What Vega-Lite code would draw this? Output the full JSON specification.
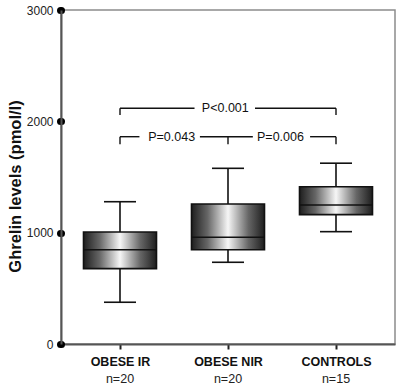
{
  "$schema": "https://vega.github.io/schema/vega-lite/v6.json",
  "width": 334,
  "height": 334,
  "autosize": {"type": "none"},
  "padding": {"left": 61, "top": 10, "right": 5, "bottom": 44},
  "background": "white",
  "config": {
    "font": "Liberation Sans",
    "view": {"stroke": "#8c8c8c", "strokeWidth": 1.5}
  },
  "datasets": {
    "boxes": [
      {"pos": 0, "group": "OBESE IR", "n": "n=20", "min": 375, "q1": 677, "median": 847, "q3": 1006, "max": 1278},
      {"pos": 1, "group": "OBESE NIR", "n": "n=20", "min": 734, "q1": 847, "median": 959, "q3": 1258, "max": 1578},
      {"pos": 2, "group": "CONTROLS", "n": "n=15", "min": 1009, "q1": 1162, "median": 1249, "q3": 1413, "max": 1624}
    ],
    "segments": [
      {"x": 0, "x2": 0, "y": 2057, "y2": 2118},
      {"x": 0, "x2": 0.69, "y": 2118, "y2": 2118},
      {"x": 1.25, "x2": 2, "y": 2118, "y2": 2118},
      {"x": 2, "x2": 2, "y": 2057, "y2": 2118},
      {"x": 0, "x2": 0, "y": 1794, "y2": 1862},
      {"x": 0, "x2": 0.18, "y": 1862, "y2": 1862},
      {"x": 0.74, "x2": 1.23, "y": 1862, "y2": 1862},
      {"x": 1, "x2": 1, "y": 1794, "y2": 1862},
      {"x": 1.76, "x2": 2, "y": 1862, "y2": 1862},
      {"x": 2, "x2": 2, "y": 1794, "y2": 1862}
    ],
    "plabels": [
      {"x": 0.975, "y": 2118, "text": "P<0.001"},
      {"x": 0.478, "y": 1862, "text": "P=0.043"},
      {"x": 1.486, "y": 1862, "text": "P=0.006"}
    ]
  },
  "layer": [
    {
      "data": {"name": "boxes"},
      "mark": {"type": "rule", "color": "#111", "strokeWidth": 1.6},
      "encoding": {
        "x": {
          "field": "pos", "type": "quantitative",
          "scale": {"domain": [-0.5, 2.5], "nice": false, "zero": false},
          "axis": {
            "title": null,
            "values": [0, 1, 2],
            "labelExpr": "['OBESE IR','OBESE NIR','CONTROLS'][datum.value]",
            "grid": false,
            "domainColor": "#555", "domainWidth": 2,
            "tickColor": "#222", "tickWidth": 2, "tickSize": 5,
            "labelFont": "Liberation Sans", "labelFontSize": 12.5, "labelFontWeight": "bold",
            "labelColor": "#111", "labelPadding": 6, "labelFlush": false, "labelOverlap": false
          }
        },
        "y": {
          "field": "min", "type": "quantitative",
          "scale": {"domain": [0, 3000], "nice": false},
          "axis": {
            "title": "Ghrelin levels (pmol/l)",
            "values": [0, 1000, 2000, 3000],
            "format": "d",
            "grid": false,
            "domainColor": "#555", "domainWidth": 2,
            "tickColor": "#000", "tickWidth": 7, "tickSize": 1, "tickCap": "round",
            "labelFont": "Liberation Sans", "labelFontSize": 12, "labelColor": "#222",
            "labelPadding": 7, "labelFlush": false, "labelOverlap": false,
            "titleFont": "Liberation Sans", "titleFontSize": 16.5, "titleFontWeight": "bold",
            "titleColor": "#111", "titlePadding": 3, "titleY": 176
          }
        },
        "y2": {"field": "max"}
      }
    },
    {
      "data": {"name": "boxes"},
      "mark": {
        "type": "bar", "size": 73, "opacity": 1, "stroke": "#111", "strokeWidth": 1.6,
        "fill": {
          "gradient": "linear", "x1": 0, "x2": 1, "y1": 0, "y2": 0,
          "stops": [
            {"offset": 0, "color": "#1e1e1e"},
            {"offset": 0.22, "color": "#666666"},
            {"offset": 0.5, "color": "#f6f6f6"},
            {"offset": 0.78, "color": "#666666"},
            {"offset": 1, "color": "#1e1e1e"}
          ]
        }
      },
      "encoding": {
        "x": {"field": "pos", "type": "quantitative"},
        "y": {"field": "q1", "type": "quantitative"},
        "y2": {"field": "q3"}
      }
    },
    {
      "data": {"name": "boxes"},
      "mark": {"type": "tick", "orient": "horizontal", "size": 73, "thickness": 1.6, "color": "#111", "opacity": 1},
      "encoding": {
        "x": {"field": "pos", "type": "quantitative"},
        "y": {"field": "median", "type": "quantitative"}
      }
    },
    {
      "data": {"name": "boxes"},
      "mark": {"type": "tick", "orient": "horizontal", "size": 32, "thickness": 1.6, "color": "#111", "opacity": 1},
      "encoding": {
        "x": {"field": "pos", "type": "quantitative"},
        "y": {"field": "max", "type": "quantitative"}
      }
    },
    {
      "data": {"name": "boxes"},
      "mark": {"type": "tick", "orient": "horizontal", "size": 32, "thickness": 1.6, "color": "#111", "opacity": 1},
      "encoding": {
        "x": {"field": "pos", "type": "quantitative"},
        "y": {"field": "min", "type": "quantitative"}
      }
    },
    {
      "data": {"name": "boxes"},
      "mark": {"type": "text", "font": "Liberation Sans", "fontSize": 12.5, "color": "#222", "baseline": "middle", "align": "center"},
      "encoding": {
        "x": {"field": "pos", "type": "quantitative"},
        "y": {"datum": -310, "type": "quantitative"},
        "text": {"field": "n"}
      }
    },
    {
      "data": {"name": "segments"},
      "mark": {"type": "rule", "color": "#111", "strokeWidth": 1.4},
      "encoding": {
        "x": {"field": "x", "type": "quantitative"},
        "x2": {"field": "x2"},
        "y": {"field": "y", "type": "quantitative"},
        "y2": {"field": "y2"}
      }
    },
    {
      "data": {"name": "plabels"},
      "mark": {"type": "text", "font": "Liberation Sans", "fontSize": 12.5, "color": "#111", "baseline": "middle", "align": "center"},
      "encoding": {
        "x": {"field": "x", "type": "quantitative"},
        "y": {"field": "y", "type": "quantitative"},
        "text": {"field": "text"}
      }
    }
  ]
}
